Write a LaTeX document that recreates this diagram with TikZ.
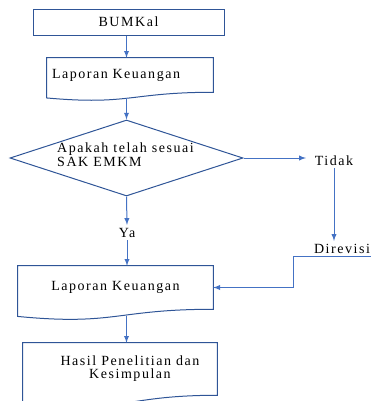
\documentclass[tikz,border=0pt]{standalone}
\usepackage{fontspec}
\setmainfont{Liberation Serif}[LetterSpace=11]
\usetikzlibrary{calc,shapes.geometric}
\definecolor{flowblue}{RGB}{68,114,196}
\definecolor{boxblue}{RGB}{47,85,151}
\newcommand{\wlines}[2][l]{\begin{tabular}{@{}#1@{}}#2\end{tabular}}

\begin{document}
\begin{tikzpicture}[x=0.75pt,y=-0.75pt,
	every node/.style={font=\fontsize{10.5}{10}\selectfont},
	box/.style={rectangle,draw=boxblue,line width=0.75pt,inner sep=0pt},
	doc/.style={rectangle,inner sep=0pt},
	decision/.style={diamond,draw=boxblue,line width=0.75pt,inner sep=0pt,aspect=3},
	lbl/.style={inner sep=2pt},
	flow/.style={-latex,flowblue,line width=0.75pt}]
		\clip (0,0) rectangle (371,401);
		% Boxes
		\node[box,minimum width=143.25pt,minimum height=19.5pt] (bumkal) at (128.5,22) {BUMKal};
		\node[doc,minimum width=124.5pt,minimum height=25.5pt,text width=117pt,align=left] (lap1) at (130,75) {\mbox{Laporan Keuangan}};
		\node[doc,minimum width=146.25pt,minimum height=32.25pt] (lap2) at (115.5,287.5) {Laporan Keuangan};
		\node[doc,minimum width=145.5pt,minimum height=39pt] (hasil) at (120,369) {\hspace*{15pt}\wlines[c]{Hasil Penelitian dan\\Kesimpulan}};
		% Wavy bottoms of the document boxes
		\foreach \n in {lap1,lap2,hasil}{
			\draw[boxblue,line width=0.75pt] ($(\n.south west)!-0.1646!(\n.north west)$) -- (\n.north west) -- (\n.north east) -- (\n.south east) .. controls (\n.south) and ($(\n.south)!-0.381!(\n.north)$) .. ($(\n.south west)!-0.1646!(\n.north west)$) -- cycle;
			\coordinate (\n-b) at ($(\n.south)!-0.163!(\n.north)$);
		}
		% Decision
		\node[decision,minimum width=174.75pt,minimum height=57pt] (dec) at (126.5,158) {};
		\node[inner sep=0pt] (dectext) at (125.5,156.5) {\wlines{Apakah telah sesuai\\SAK EMKM}};
		% Labels
		\node[lbl] (tidak) at (334,160.5) {Tidak};
		\node[lbl] (direvisi) at (342,248.5) {Direvisi};
		\node[lbl] (ya) at (127,232.5) {Ya};
		% Arrows
		\draw[flow] (bumkal.south -| dec.north) -- (lap1.north -| dec.north);
		\draw[flow] (lap1-b -| dec.north) -- (dec.north);
		\draw[flow,shorten >=4.5pt] (dec.east) -- (dec.east -| tidak.west);
		\draw[flow] (tidak.south) -- (tidak.south |- direvisi.north);
		\draw[flow] (dec.south) -- (ya.north);
		\draw[flow] (ya.south) -- (ya.south |- lap2.north);
		\draw[flow] (direvisi.south east) -| ($(lap2.east)+(80,0)$) -- (lap2.east);
		\draw[flow] (lap2-b -| dec.south) -- (hasil.north -| dec.south);
	\end{tikzpicture}
\end{document}
